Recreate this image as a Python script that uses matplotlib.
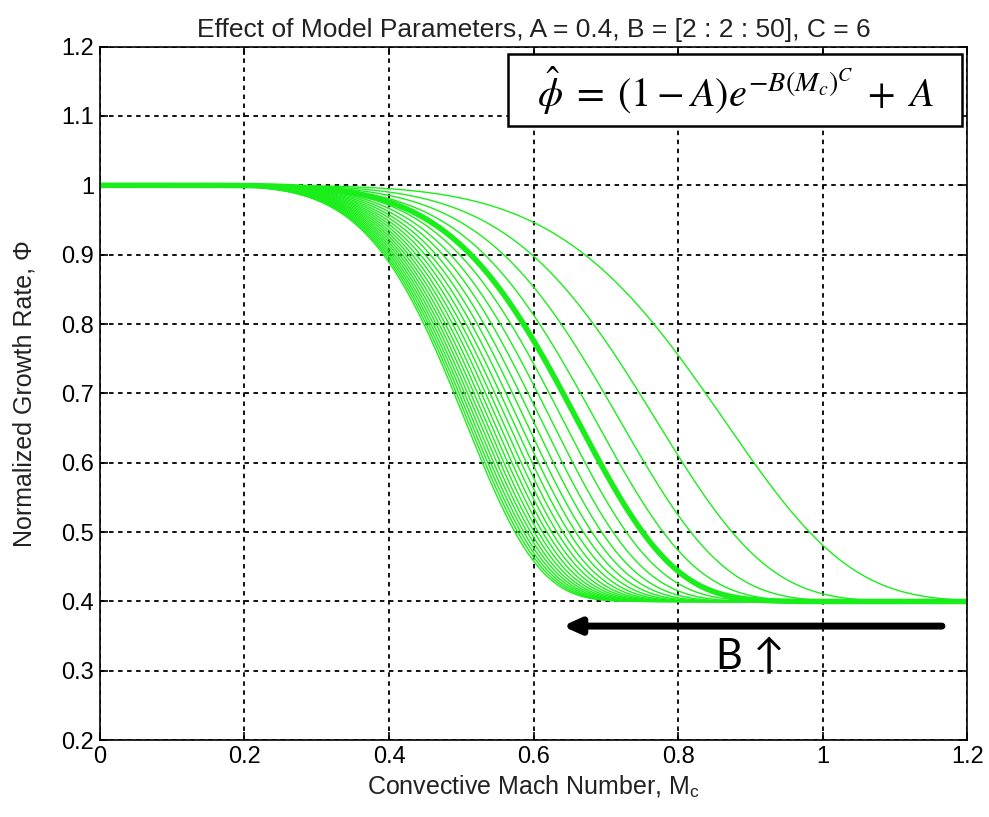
import matplotlib

matplotlib.use("Agg")
import matplotlib.pyplot as plt
from matplotlib.patches import Rectangle
import numpy as np

# model parameters (from the title)
A = 0.4
B_values = [2, 4, 6, 8, 10, 12, 14, 16, 18, 20, 22, 24, 26,
            28, 30, 32, 34, 36, 38, 40, 42, 44, 46, 48, 50]
C = 6
B_bold = 10

x_ticks = [0, 0.2, 0.4, 0.6, 0.8, 1, 1.2]
x_ticklabels = ['0', '0.2', '0.4', '0.6', '0.8', '1', '1.2']
y_ticks = [0.2, 0.3, 0.4, 0.5, 0.6, 0.7, 0.8, 0.9, 1.0, 1.1, 1.2]
y_ticklabels = ['0.2', '0.3', '0.4', '0.5', '0.6', '0.7', '0.8', '0.9', '1', '1.1', '1.2']

plt.rcParams['font.family'] = ['Liberation Sans', 'DejaVu Sans']
plt.rcParams['mathtext.fontset'] = 'stix'

fig = plt.figure(figsize=(9.89, 8.17), dpi=100)
ax = fig.add_axes([0.101, 0.094, 0.877, 0.849])

Mc = np.linspace(0, 1.2, 600)
green = '#1aee1a'
for B in B_values:
    phi = (1 - A) * np.exp(-B * Mc ** C) + A
    lw = 4.0 if B == B_bold else 1.0
    ax.plot(Mc, phi, color=green, linewidth=lw)

ax.set_xlim(0, 1.2)
ax.set_ylim(0.2, 1.2)
ax.set_xticks(x_ticks)
ax.set_xticklabels(x_ticklabels)
ax.set_yticks(y_ticks)
ax.set_yticklabels(y_ticklabels)
ax.tick_params(direction='in', length=6, width=1.2, labelsize=17,
               top=True, right=True, pad=4)
ax.grid(True, color='black', linestyle=(0, (2.5, 2.5)), linewidth=1.3)
for s in ax.spines.values():
    s.set_linewidth(1.2)

ax.set_title('Effect of Model Parameters, A = 0.4, B = [2 : 2 : 50], C = 6',
             fontsize=19, pad=7, color='#222222')
ax.set_xlabel('Convective Mach Number, M$_\\mathregular{c}$', fontsize=18,
              labelpad=4, color='#222222')
ax.set_ylabel('Normalized Growth Rate, \u03a6', fontsize=18, labelpad=18,
              color='#222222')

# equation box
ax.add_patch(Rectangle((0.565, 1.085), 0.628, 0.104, facecolor='white',
                       edgecolor='black', linewidth=1.8, zorder=4,
                       clip_on=False))
ax.text(0.879, 1.136, r'$\hat{\phi}\;=\;(1-A)e^{-B(M_c)^C}\;+\;A$',
        fontsize=29, ha='center', va='center', zorder=5)

# arrow showing B increasing
ax.annotate('', xy=(0.64, 0.3645), xytext=(1.165, 0.3645),
            arrowprops=dict(arrowstyle='-|>,head_length=1.0,head_width=0.45',
                            color='black', linewidth=5, shrinkA=0, shrinkB=0),
            zorder=5)
ax.text(0.9, 0.32, 'B \u2191', fontsize=30, family=['Lato', 'DejaVu Sans'],
        ha='center', va='center', zorder=5)

fig.savefig('out.png', dpi=100)
